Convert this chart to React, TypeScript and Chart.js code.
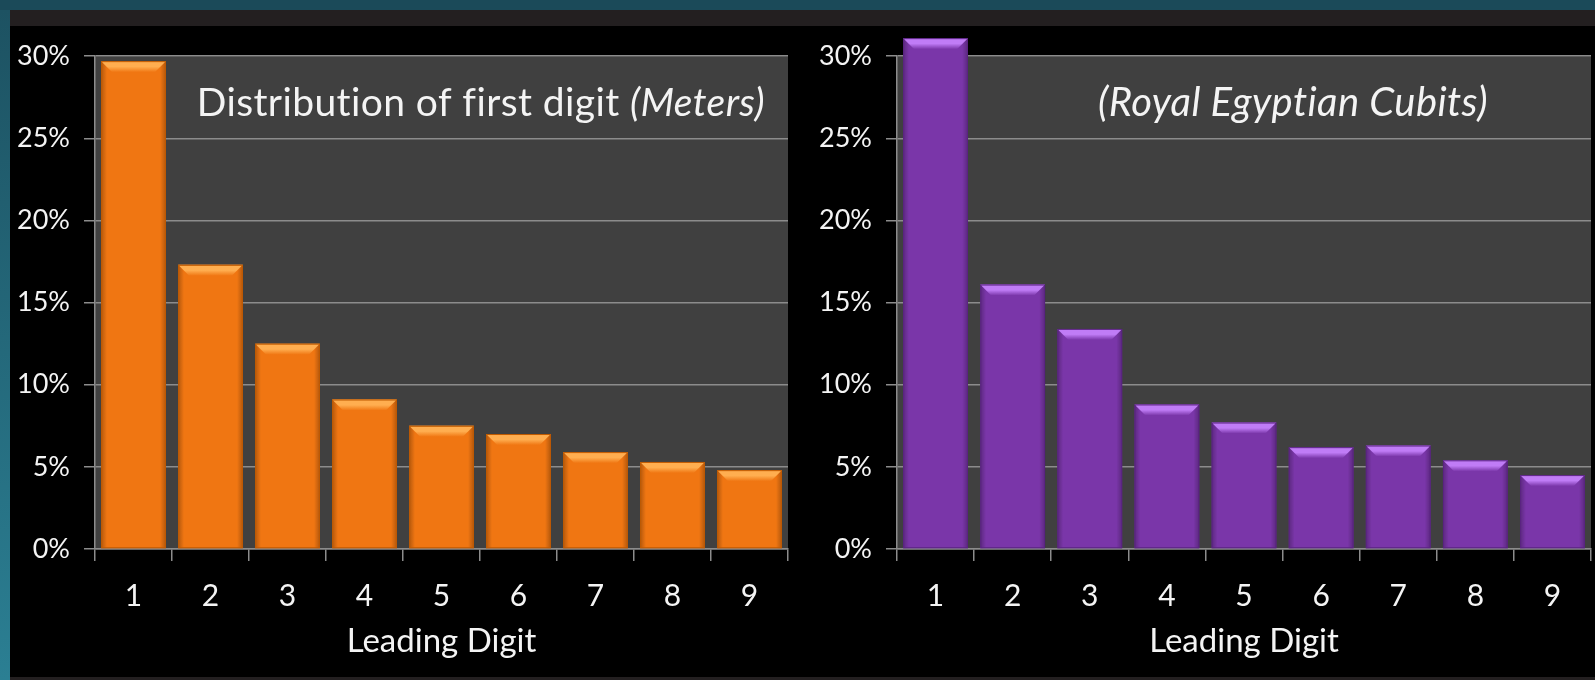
import React, { useEffect, useRef } from "react";
import { Chart, registerables } from "chart.js";

Chart.register(...registerables);

const digits = ["1", "2", "3", "4", "5", "6", "7", "8", "9"];
const metersPct = [29.7, 17.3, 12.5, 9.1, 7.5, 7.0, 5.9, 5.3, 4.8];
const cubitsPct = [31.1, 16.1, 13.4, 8.8, 7.7, 6.2, 6.3, 5.4, 4.5];
const yTicks = [0, 5, 10, 15, 20, 25, 30];
const xAxisTitle = "Leading Digit";
const leftTitleRegular = "Distribution of first digit ";
const leftTitleItalic = "(Meters)";
const rightTitleRegular = "";
const rightTitleItalic = "(Royal Egyptian Cubits)";

const FONT = "Lato, 'Open Sans', sans-serif";

type Spec = {
  values: number[];
  body: string;
  light: string;
  dark: string;
  yAxisW: number;
  padRight: number;
  titleReg: string;
  titleIt: string;
  titleRightInset: number;
  titleSize: number;
};

const plotBg = {
  id: "plotBg",
  beforeDraw(chart: any) {
    const { ctx, chartArea } = chart;
    ctx.save();
    ctx.fillStyle = "#404040";
    ctx.fillRect(chartArea.left, chartArea.top, chartArea.right - chartArea.left, chartArea.bottom - chartArea.top);
    ctx.restore();
  },
};

function bevelPlugin(spec: Spec) {
  return {
    id: "bevel",
    afterDatasetsDraw(chart: any) {
      const { ctx } = chart;
      const meta = chart.getDatasetMeta(0);
      ctx.save();
      meta.data.forEach((el: any) => {
        const w = el.width;
        const l = el.x - w / 2;
        const r = el.x + w / 2;
        const t = el.y;
        const b = el.base;
        const bev = 11;
        const g = ctx.createLinearGradient(l, 0, r, 0);
        g.addColorStop(0, "rgba(0,0,0,0.25)");
        g.addColorStop(0.09, "rgba(0,0,0,0.0)");
        g.addColorStop(0.91, "rgba(0,0,0,0.0)");
        g.addColorStop(1, "rgba(0,0,0,0.25)");
        ctx.fillStyle = g;
        ctx.fillRect(l, t, w, b - t);
        const gt = ctx.createLinearGradient(0, t, 0, t + bev);
        gt.addColorStop(0, spec.light);
        gt.addColorStop(0.5, spec.light);
        gt.addColorStop(1, spec.body);
        ctx.fillStyle = gt;
        ctx.beginPath();
        ctx.moveTo(l, t);
        ctx.lineTo(r, t);
        ctx.lineTo(r - bev, t + bev);
        ctx.lineTo(l + bev, t + bev);
        ctx.closePath();
        ctx.fill();
        ctx.strokeStyle = spec.dark;
        ctx.lineWidth = 1;
        ctx.strokeRect(l + 0.5, t + 0.5, w - 1, b - t - 1);
      });
      ctx.restore();
    },
  };
}

function titlePlugin(spec: Spec) {
  return {
    id: "innerTitle",
    afterDraw(chart: any) {
      const { ctx, chartArea } = chart;
      ctx.save();
      ctx.fillStyle = "#f4f4f4";
      ctx.textBaseline = "alphabetic";
      try {
        (ctx as any).letterSpacing = "0.4px";
      } catch (e) {}
      const y = chartArea.top + 60;
      const right = chartArea.right - spec.titleRightInset;
      const s = spec.titleSize;
      ctx.font = `italic ${s}px ${FONT}`;
      const wi = ctx.measureText(spec.titleIt).width;
      ctx.font = `${s}px ${FONT}`;
      const wr = spec.titleReg ? ctx.measureText(spec.titleReg).width : 0;
      const start = right - wi - wr;
      ctx.textAlign = "left";
      if (spec.titleReg) {
        ctx.fillText(spec.titleReg, start, y);
      }
      ctx.font = `italic ${s}px ${FONT}`;
      ctx.fillText(spec.titleIt, start + wr, y);
      ctx.restore();
    },
  };
}

function BarChart({ spec, width, height }: { spec: Spec; width: number; height: number }) {
  const ref = useRef<HTMLCanvasElement>(null);
  useEffect(() => {
    if (!ref.current) return;
    const chart = new Chart(ref.current, {
      type: "bar",
      data: {
        labels: digits,
        datasets: [
          {
            data: spec.values,
            backgroundColor: spec.body,
            borderWidth: 0,
            categoryPercentage: 1,
            barPercentage: 0.84,
            clip: false as any,
          },
        ],
      },
      options: {
        responsive: false,
        animation: false,
        layout: { padding: { top: 27, right: spec.padRight, left: 0, bottom: 0 } },
        plugins: { legend: { display: false }, tooltip: { enabled: false }, title: { display: false } },
        scales: {
          x: {
            grid: {
              drawOnChartArea: false,
              drawTicks: true,
              tickLength: 12,
              color: "#8c8c8c",
              lineWidth: 1.5,
              offset: true,
            },
            border: { color: "#8c8c8c", width: 1.5 },
            ticks: { color: "#f4f4f4", font: { family: FONT, size: 30 }, padding: 17 },
            title: {
              display: true,
              text: xAxisTitle,
              color: "#f4f4f4",
              font: { family: FONT, size: 33 },
              padding: { top: 0, bottom: 16 },
            },
            afterFit: (s: any) => {
              s.height = 128;
            },
          },
          y: {
            min: 0,
            max: 30,
            afterBuildTicks: (s: any) => {
              s.ticks = yTicks.map((v) => ({ value: v }));
            },
            grid: { color: "#8c8c8c", lineWidth: 1.5, tickLength: 11 },
            border: { color: "#8c8c8c", width: 1.5 },
            ticks: {
              color: "#f4f4f4",
              font: { family: FONT, size: 27 },
              padding: 14,
              callback: (v: any) => `${v}%`,
            },
            afterFit: (s: any) => {
              s.width = spec.yAxisW;
            },
          },
        },
      },
      plugins: [plotBg, bevelPlugin(spec), titlePlugin(spec)],
    } as any);
    return () => chart.destroy();
  }, []);
  return <canvas ref={ref} width={width} height={height} style={{ width, height, display: "block" }} />;
}

const leftSpec: Spec = {
  values: metersPct,
  body: "#f07612",
  light: "#ffae50",
  dark: "#c05a00",
  yAxisW: 85,
  padRight: 7,
  titleReg: leftTitleRegular,
  titleIt: leftTitleItalic,
  titleRightInset: 23,
  titleSize: 39,
};

const rightSpec: Spec = {
  values: cubitsPct,
  body: "#7a36a9",
  light: "#c07cf6",
  dark: "#5a2382",
  yAxisW: 102,
  padRight: 4,
  titleReg: rightTitleRegular,
  titleIt: rightTitleItalic,
  titleRightInset: 103,
  titleSize: 40,
};

export default function App() {
  return (
    <div style={{ position: "absolute", left: 0, top: 0, width: 1595, height: 680, background: "#1b4a59", overflow: "hidden" }}>
      <div style={{ position: "absolute", left: 0, top: 10, width: 10, height: 670, background: "linear-gradient(#1d5262, #2b7f93)" }} />
      <div style={{ position: "absolute", left: 10, top: 10, width: 1585, height: 670, background: "#231f20" }} />
      <div style={{ position: "absolute", left: 10, top: 26, width: 1585, height: 651, background: "#000" }} />
      <div style={{ position: "absolute", left: 10, top: 26 }}>
        <BarChart spec={leftSpec} width={785} height={651} />
      </div>
      <div style={{ position: "absolute", left: 795, top: 26 }}>
        <BarChart spec={rightSpec} width={800} height={651} />
      </div>
    </div>
  );
}
